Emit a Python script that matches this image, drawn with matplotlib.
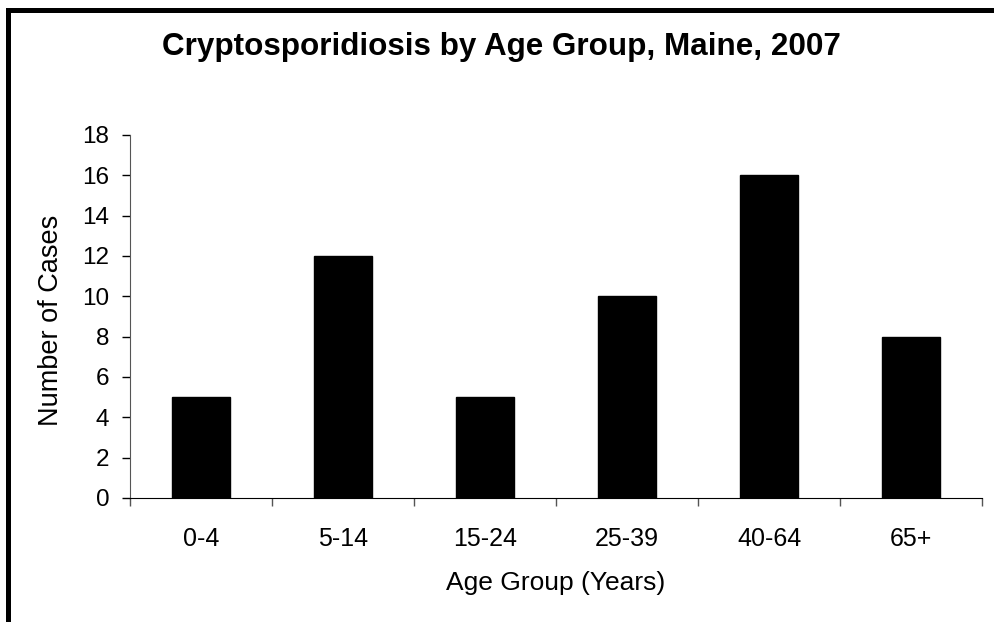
import numpy as np
import matplotlib.pyplot as plt
from matplotlib.patches import Rectangle

# Datos
grupos = ['0-4', '5-14', '15-24', '25-39', '40-64', '65+']
casos = [5, 12, 5, 10, 16, 8]
yticks = [0, 2, 4, 6, 8, 10, 12, 14, 16, 18]

plt.rcParams['font.family'] = ['Liberation Sans', 'DejaVu Sans']

fig = plt.figure(figsize=(9.95, 6.22), dpi=100)
ax = fig.add_axes([0.1307, 0.1994, 0.8563, 0.5836])

x = np.arange(len(grupos))
ax.bar(x, casos, width=0.41, color='black', edgecolor='black')

ax.set_xlim(-0.5, len(grupos) - 0.5)
ax.set_ylim(0, 18)
ax.set_yticks(yticks)

# ticks en los limites de categorias, etiquetas en el centro
ax.set_xticks(np.arange(-0.5, len(grupos)), [''] * (len(grupos) + 1))
ax.set_xticks(x, grupos, minor=True)
ax.tick_params(axis='x', which='major', length=6, width=1, direction='out', color='#555555')
ax.tick_params(axis='x', which='minor', length=0, pad=21, labelsize=18)
ax.tick_params(axis='y', length=6, width=1, direction='out', pad=9, labelsize=17.5)

for s in ['top', 'right']:
    ax.spines[s].set_visible(False)
ax.spines['left'].set_color('#555555')
ax.spines['bottom'].set_color('black')

ax.set_ylabel('Number of Cases', fontsize=19.5)
ax.yaxis.set_label_coords(-0.078, 0.49)
ax.set_xlabel('Age Group (Years)', fontsize=19)
ax.xaxis.set_label_coords(0.5, -0.2)

fig.text(0.504, 0.925, 'Cryptosporidiosis by Age Group, Maine, 2007',
         ha='center', va='center', fontsize=22.6, fontweight='bold')

# Marco exterior
fig.patches.append(Rectangle((0.0085, -0.2), 1.2, 0.9847 + 0.2, transform=fig.transFigure,
                             fill=False, edgecolor='black', linewidth=3.6))

fig.savefig('out.png', dpi=100)
